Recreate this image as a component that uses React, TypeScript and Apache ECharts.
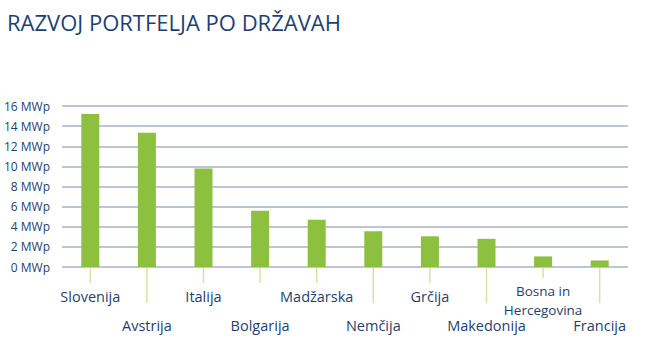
import React, { useEffect, useRef } from "react";
import * as echarts from "echarts";

const countries = [
  "Slovenija",
  "Avstrija",
  "Italija",
  "Bolgarija",
  "Madžarska",
  "Nemčija",
  "Grčija",
  "Makedonija",
  "Bosna in\nHercegovina",
  "Francija",
];
const capacityMWp = [15.2, 13.35, 9.8, 5.6, 4.7, 3.55, 3.05, 2.8, 1.05, 0.65];
const yTicks = [0, 2, 4, 6, 8, 10, 12, 14, 16];

// label row per category (0 = upper row, 1 = lower row)
const labelRow = [0, 1, 0, 1, 0, 1, 0, 1, 0, 1];
// tick length per category (styling)
const tickLen = [16, 36, 16, 16, 16, 36, 16, 36, 11, 36];

export default function App() {
  const ref = useRef<HTMLDivElement>(null);
  useEffect(() => {
    if (!ref.current) return;
    const chart = echarts.init(ref.current, undefined, { renderer: "svg" });
    const font = "'Open Sans', sans-serif";
    const labelColor = "#1f3f6e";
    chart.setOption({
      animation: false,
      backgroundColor: "#ffffff",
      textStyle: { fontFamily: font },
      title: {
        text: "RAZVOJ PORTFELJA PO DRŽAVAH",
        left: 2,
        top: 6,
        textStyle: {
          fontFamily: font,
          fontSize: 22,
          fontWeight: "normal",
          color: "#1d3f73",
        },
      },
      grid: { left: 62, right: 32, top: 106, bottom: 87, containLabel: false },
      xAxis: {
        type: "category",
        data: countries,
        axisLine: { show: false },
        axisTick: { show: false },
        axisLabel: {
          interval: 0,
          margin: 15,
          formatter: (value: string, idx: number) => {
            if (value.indexOf("\n") >= 0) {
              return value
                .split("\n")
                .map((s) => `{m|${s}}`)
                .join("\n");
            }
            return labelRow[idx] === 1 ? `{r2|${value}}` : `{r1|${value}}`;
          },
          rich: {
            r1: { fontFamily: font, fontSize: 14.5, color: labelColor, lineHeight: 28 },
            r2: { fontFamily: font, fontSize: 14.5, color: labelColor, lineHeight: 86 },
            m: { fontFamily: font, fontSize: 13.5, color: labelColor, lineHeight: 18.5 },
          },
        },
      },
      yAxis: {
        type: "value",
        min: 0,
        max: 16,
        interval: 2,
        axisLine: { show: false },
        axisTick: { show: false },
        axisLabel: {
          margin: 12,
          fontFamily: font,
          fontSize: 12,
          color: labelColor,
          formatter: (v: number) => (yTicks.includes(v) ? `${v} MWp` : ""),
        },
        splitLine: { lineStyle: { color: "#a9b2c4", width: 1.5 } },
      },
      series: [
        {
          type: "bar",
          data: capacityMWp,
          barWidth: 18,
          itemStyle: { color: "#8dc03f" },
          z: 2,
        },
        {
          type: "custom",
          clip: false,
          data: countries.map((_, i) => [i, 0]),
          renderItem: (params: any, api: any) => {
            const idx = params.dataIndex;
            const p = api.coord([api.value(0), 0]);
            return {
              type: "line",
              shape: { x1: p[0], y1: p[1] + 1, x2: p[0], y2: p[1] + tickLen[idx] },
              style: { stroke: "#d5e4a3", lineWidth: 1.5 },
            };
          },
          z: 1,
        },
      ],
    });
    return () => chart.dispose();
  }, []);
  return <div ref={ref} style={{ width: 660, height: 354, position: "absolute", left: 0, top: 0 }} />;
}
